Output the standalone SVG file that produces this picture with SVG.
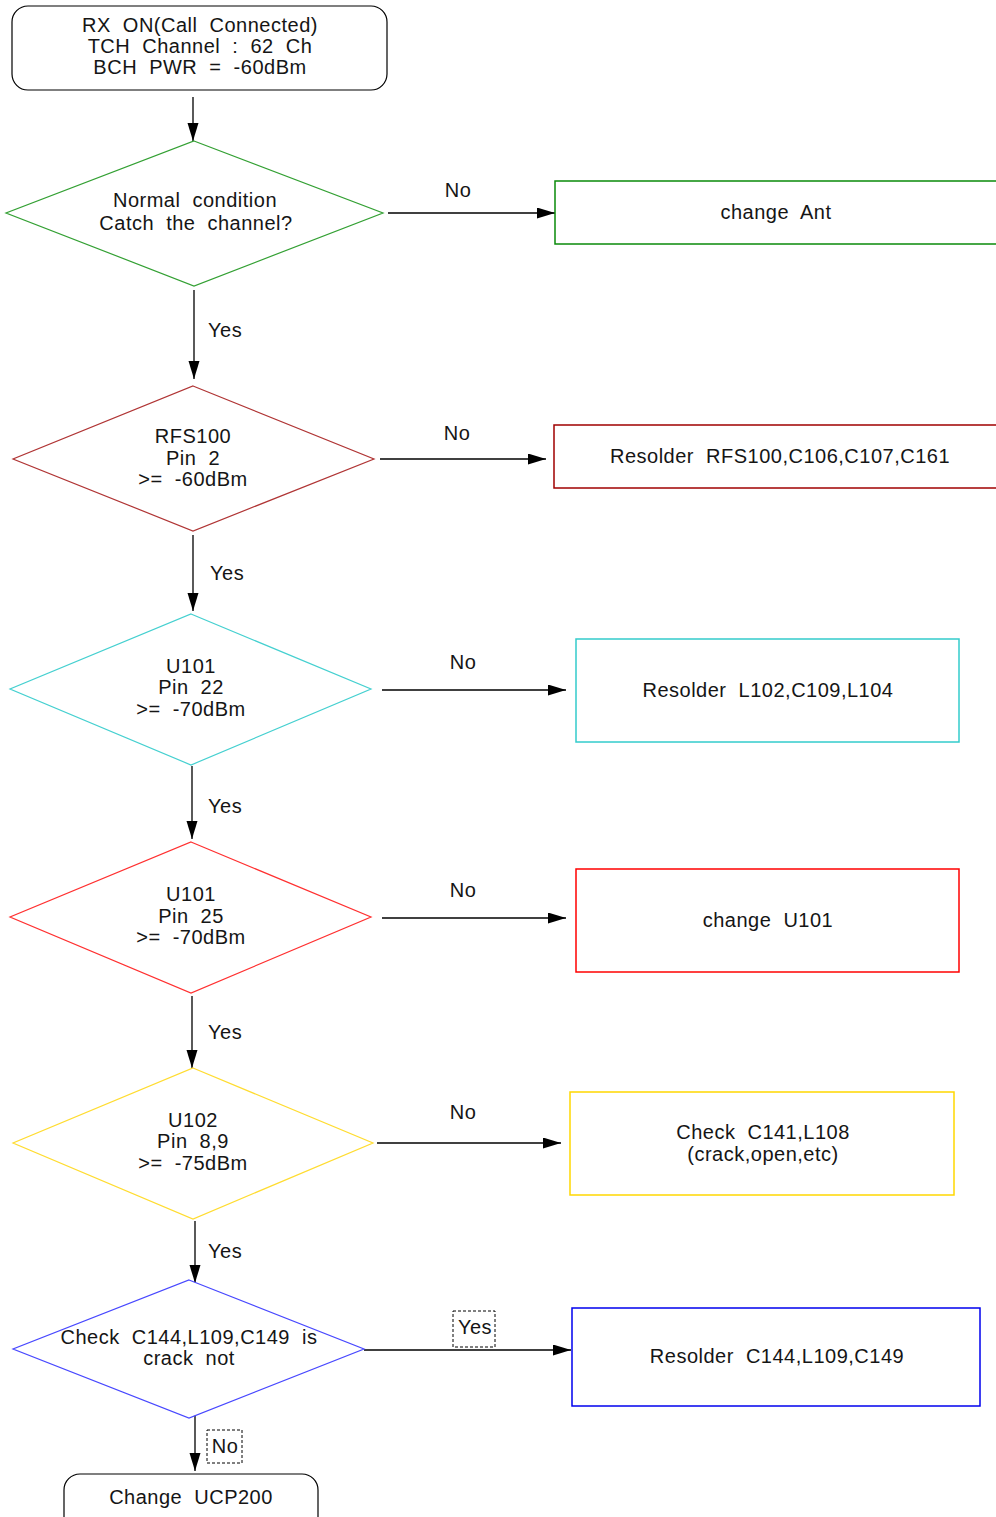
<svg xmlns="http://www.w3.org/2000/svg" width="996" height="1517" viewBox="0 0 996 1517">
  <defs>
    <marker id="arrow" markerUnits="userSpaceOnUse" markerWidth="18" markerHeight="12" refX="18" refY="5.5" orient="auto">
      <path d="M0,0 L18,5.5 L0,11 z" fill="#000"/>
    </marker>
    <style>
      text { font-family: "Liberation Sans", Arial, sans-serif; font-size: 20px; fill: #151515; letter-spacing: 0.5px; word-spacing: 6px; }
      .c { text-anchor: middle; }
      .term { fill: #fff; stroke: #000; stroke-width: 1.2; }
      .dec { fill: #fff; stroke-width: 1.2; }
      .box { fill: #fff; stroke-width: 1.5; }
      .link { fill: none; stroke: #000; stroke-width: 1.3; marker-end: url(#arrow); }
      .tag { fill: #fff; stroke: #000; stroke-width: 1; stroke-dasharray: 3 2; }
    </style>
  </defs>
  <rect width="996" height="1517" fill="#fff"/>

  <!-- connectors -->
  <g id="connectors">
    <line class="link" x1="193" y1="97" x2="193" y2="141"/>
    <line class="link" x1="194" y1="290" x2="194" y2="379"/>
    <line class="link" x1="193" y1="535" x2="193" y2="611"/>
    <line class="link" x1="192" y1="766" x2="192" y2="839"/>
    <line class="link" x1="192" y1="996" x2="192" y2="1068"/>
    <line class="link" x1="195" y1="1221" x2="195" y2="1283"/>
    <line class="link" x1="195" y1="1410" x2="195" y2="1471"/>
    <line class="link" x1="388" y1="213" x2="555" y2="213"/>
    <line class="link" x1="380" y1="459" x2="546" y2="459"/>
    <line class="link" x1="382" y1="690" x2="566" y2="690"/>
    <line class="link" x1="382" y1="918" x2="566" y2="918"/>
    <line class="link" x1="377" y1="1143" x2="561" y2="1143"/>
    <line class="link" x1="364" y1="1350" x2="571" y2="1350"/>

    <text x="458" y="197" class="c">No</text>
    <text x="208" y="337">Yes</text>
    <text x="457" y="440" class="c">No</text>
    <text x="210" y="580">Yes</text>
    <text x="463" y="669" class="c">No</text>
    <text x="208" y="813">Yes</text>
    <text x="463" y="897" class="c">No</text>
    <text x="208" y="1039">Yes</text>
    <text x="463" y="1119" class="c">No</text>
    <text x="208" y="1258">Yes</text>

    <rect class="tag" x="453" y="1311" width="42" height="36"/>
    <text x="475" y="1334" class="c">Yes</text>
    <rect class="tag" x="207" y="1430" width="35" height="33"/>
    <text x="225" y="1453" class="c">No</text>
  </g>

  <!-- start -->
  <g id="start">
    <rect class="term" x="12" y="6" width="375" height="84" rx="16"/>
    <text x="200" y="32" class="c">RX  ON(Call  Connected)</text>
    <text x="200" y="53" class="c">TCH  Channel  :  62  Ch</text>
    <text x="200" y="74" class="c">BCH  PWR  =  -60dBm</text>
  </g>

  <!-- decision 1 -->
  <g id="catch-channel">
    <polygon class="dec" stroke="#33a033" points="194,141 383,213 194,286 6,213"/>
    <text x="195" y="207" class="c">Normal  condition</text>
    <text x="196" y="230" class="c">Catch  the  channel?</text>
  </g>
  <g id="change-ant">
    <rect class="box" stroke="#0a8a0a" x="555" y="181" width="450" height="63"/>
    <text x="776" y="219" class="c">change  Ant</text>
  </g>

  <!-- decision 2 -->
  <g id="rfs100">
    <polygon class="dec" stroke="#b03535" points="193,386 374,459 193,531 13,459"/>
    <text x="193" y="443" class="c">RFS100</text>
    <text x="193" y="465" class="c">Pin  2</text>
    <text x="193" y="486" class="c">&gt;=  -60dBm</text>
  </g>
  <g id="resolder-rfs100">
    <rect class="box" stroke="#a00000" x="554" y="425" width="450" height="63"/>
    <text x="780" y="463" class="c">Resolder  RFS100,C106,C107,C161</text>
  </g>

  <!-- decision 3 -->
  <g id="u101-pin22">
    <polygon class="dec" stroke="#45d0d0" points="191,614 371,689 191,765 10,689"/>
    <text x="191" y="673" class="c">U101</text>
    <text x="191" y="694" class="c">Pin  22</text>
    <text x="191" y="716" class="c">&gt;=  -70dBm</text>
  </g>
  <g id="resolder-l102">
    <rect class="box" stroke="#33cccc" x="576" y="639" width="383" height="103"/>
    <text x="768" y="697" class="c">Resolder  L102,C109,L104</text>
  </g>

  <!-- decision 4 -->
  <g id="u101-pin25">
    <polygon class="dec" stroke="#ff3030" points="191,842 371,917 191,993 10,917"/>
    <text x="191" y="901" class="c">U101</text>
    <text x="191" y="923" class="c">Pin  25</text>
    <text x="191" y="944" class="c">&gt;=  -70dBm</text>
  </g>
  <g id="change-u101">
    <rect class="box" stroke="#ff0000" x="576" y="869" width="383" height="103"/>
    <text x="768" y="927" class="c">change  U101</text>
  </g>

  <!-- decision 5 -->
  <g id="u102">
    <polygon class="dec" stroke="#ffdc30" points="193,1068 373,1143 193,1219 13,1143"/>
    <text x="193" y="1127" class="c">U102</text>
    <text x="193" y="1148" class="c">Pin  8,9</text>
    <text x="193" y="1170" class="c">&gt;=  -75dBm</text>
  </g>
  <g id="check-c141">
    <rect class="box" stroke="#ffd700" x="570" y="1092" width="384" height="103"/>
    <text x="763" y="1139" class="c">Check  C141,L108</text>
    <text x="763" y="1161" class="c">(crack,open,etc)</text>
  </g>

  <!-- decision 6 -->
  <g id="check-c144">
    <polygon class="dec" stroke="#4848ff" points="189,1280 364,1349 189,1418 13,1349"/>
    <text x="189" y="1344" class="c">Check  C144,L109,C149  is</text>
    <text x="189" y="1365" class="c">crack  not</text>
  </g>
  <g id="resolder-c144">
    <rect class="box" stroke="#0000ee" x="572" y="1308" width="408" height="98"/>
    <text x="777" y="1363" class="c">Resolder  C144,L109,C149</text>
  </g>

  <!-- end -->
  <g id="change-ucp200">
    <rect class="term" x="64" y="1474" width="254" height="60" rx="16"/>
    <text x="191" y="1504" class="c">Change  UCP200</text>
  </g>
</svg>
